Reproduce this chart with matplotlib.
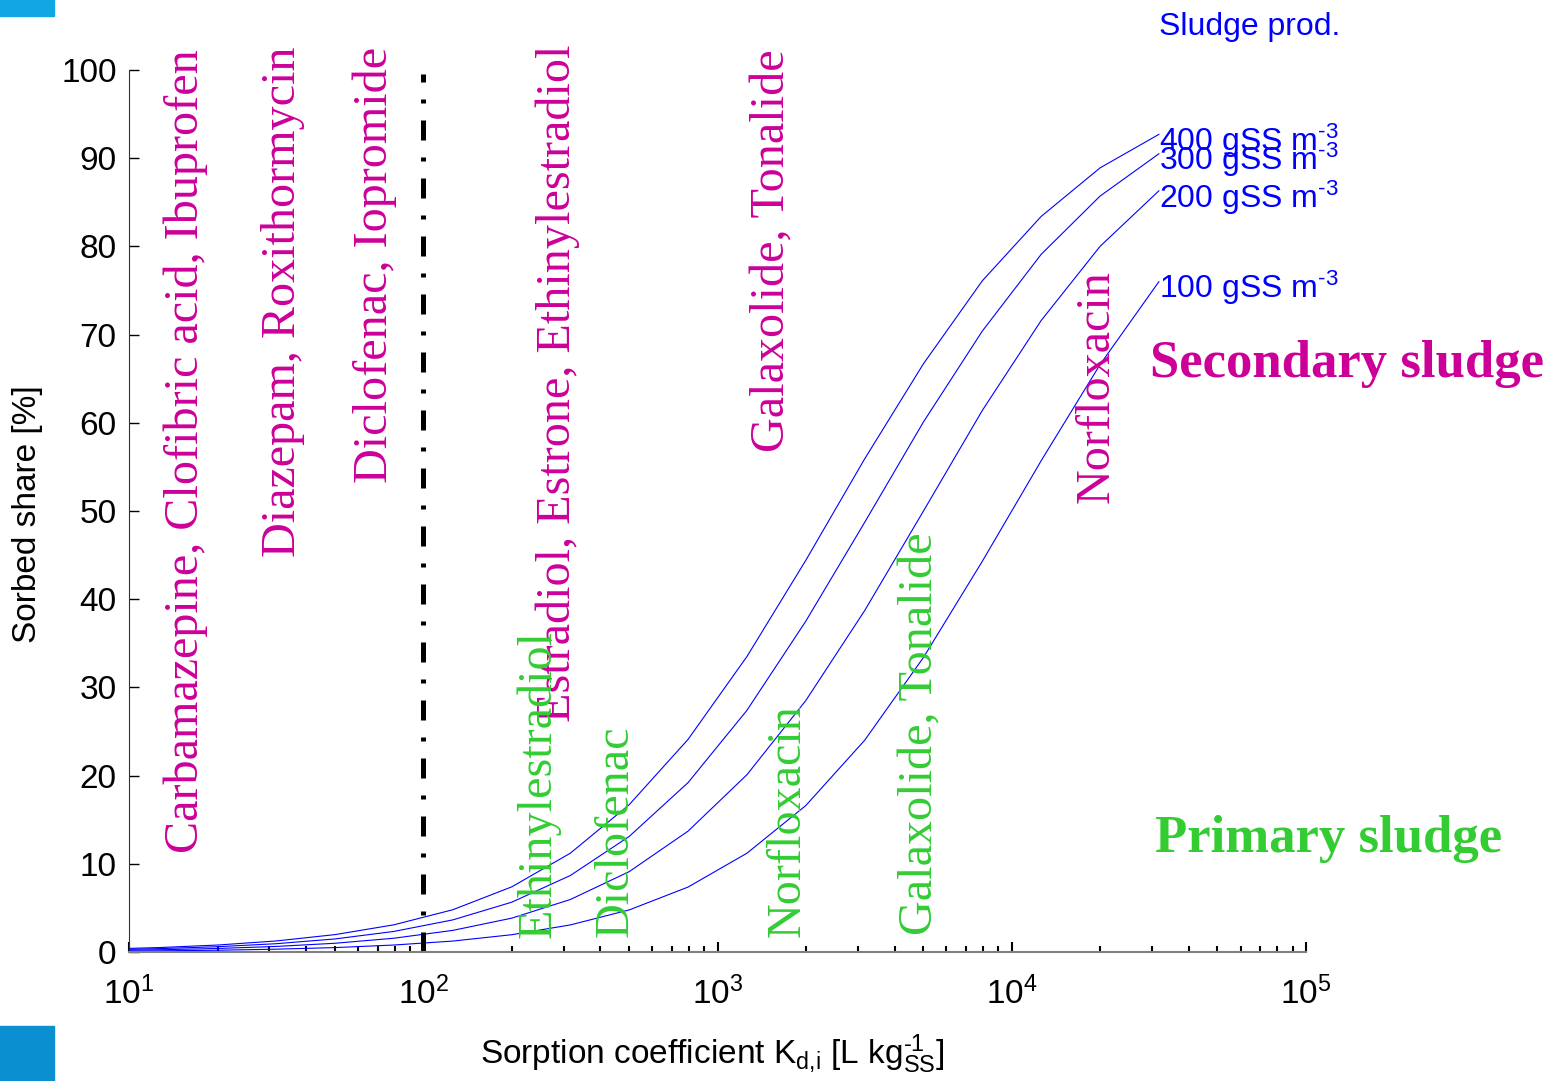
import matplotlib
matplotlib.use("Agg")
import matplotlib.pyplot as plt
from matplotlib.patches import Rectangle

plt.rcParams['font.family'] = ['Liberation Sans', 'DejaVu Sans']
plt.rcParams['mathtext.fontset'] = 'custom'
plt.rcParams['mathtext.rm'] = 'Liberation Sans'
plt.rcParams['mathtext.it'] = 'Liberation Sans'
plt.rcParams['mathtext.bf'] = 'Liberation Sans:bold'

# Kd grid (L/kgSS), 0.2-decade steps
kd = [7.94, 12.6, 20.0, 31.6, 50.1, 79.4, 126, 200, 316, 501, 794, 1259,
      1995, 3162, 5012, 7943, 12589, 19953, 31623]

# sorbed share [%] per sludge production
share_400 = [0.32, 0.50, 0.79, 1.25, 1.97, 3.08, 4.79, 7.39, 11.2, 16.7, 24.1,
             33.5, 44.4, 55.9, 66.7, 76.1, 83.4, 88.9, 92.7]
share_300 = [0.24, 0.38, 0.60, 0.94, 1.48, 2.33, 3.64, 5.65, 8.67, 13.1, 19.2,
             27.4, 37.5, 48.7, 60.1, 70.4, 79.1, 85.7, 90.5]
share_200 = [0.16, 0.25, 0.40, 0.63, 0.99, 1.56, 2.45, 3.84, 5.95, 9.11, 13.7,
             20.1, 28.5, 38.7, 50.0, 61.4, 71.6, 80.0, 86.3]
share_100 = [0.08, 0.13, 0.20, 0.32, 0.50, 0.79, 1.24, 1.96, 3.07, 4.77, 7.36,
             11.2, 16.6, 24.0, 33.4, 44.3, 55.7, 66.6, 76.0]

sludge_prod = [400, 300, 200, 100]
curves = [share_400, share_300, share_200, share_100]

# compounds: secondary (magenta) and primary (green) sludge
secondary_labels = ["Carbamazepine, Clofibric acid, Ibuprofen",
                    "Diazepam, Roxithormycin",
                    "Diclofenac, Iopromide",
                    "Estradiol, Estrone, Ethinylestradiol",
                    "Galaxolide, Tonalide",
                    "Norfloxacin"]
secondary_x = [17.2, 36.7, 75.3, 315, 1683, 21400]
secondary_y = [11.2, 44.8, 53.2, 26.1, 56.7, 50.9]

primary_labels = ["Ethinylestradiol", "Diclofenac", "Norfloxacin",
                  "Galaxolide, Tonalide"]
primary_x = [270, 493, 1907, 5358]
primary_y = [1.6, 1.7, 1.7, 1.9]

threshold_kd = 100

MAGENTA = '#CC0099'
GREEN = '#33CC33'
BLUE = '#0000FF'

fig = plt.figure(figsize=(15.56, 10.81), dpi=100)
ax = fig.add_axes([129 / 1556, 129 / 1081, 1177 / 1556, 882 / 1081])

for prod, share in zip(sludge_prod, curves):
    ax.plot(kd, share, color=BLUE, lw=0.8)
    ax.annotate(f'{prod} gSS m$^{{\\text{{-3}}}}$', xy=(kd[-1], share[-1]),
                xytext=(0, -12), textcoords='offset points',
                ha='left', va='baseline', color=BLUE, fontsize=23,
                annotation_clip=False)

ax.text(kd[-1], 104.0, 'Sludge prod.', color=BLUE, fontsize=23,
        ha='left', va='baseline', clip_on=False)

ax.plot([threshold_kd, threshold_kd], [0, 99.5], color='black', lw=3.6,
        dashes=(4, 3.4, 0.8, 3.4), dash_capstyle='butt')

for txt, x, y in zip(secondary_labels, secondary_x, secondary_y):
    ax.text(x, y, txt, rotation=90, rotation_mode='anchor', ha='left',
            va='baseline', color=MAGENTA, fontsize=34.7,
            family='Liberation Serif')
for txt, x, y in zip(primary_labels, primary_x, primary_y):
    ax.text(x, y, txt, rotation=90, rotation_mode='anchor', ha='left',
            va='baseline', color=GREEN, fontsize=34.7,
            family='Liberation Serif')

ax.text(29500, 65.2, 'Secondary sludge', color=MAGENTA, fontsize=38,
        fontweight='bold', family='Liberation Serif', ha='left',
        va='baseline', clip_on=False)
ax.text(30700, 11.3, 'Primary sludge', color=GREEN, fontsize=38,
        fontweight='bold', family='Liberation Serif', ha='left',
        va='baseline', clip_on=False)

ax.set_xscale('log')
ax.set_xlim(10, 1e5)
ax.set_ylim(0, 100)
ax.set_yticks(range(0, 101, 10))
ax.set_xticks([1e1, 1e2, 1e3, 1e4, 1e5])
ax.set_xticklabels(['$10^{1}$', '$10^{2}$', '$10^{3}$', '$10^{4}$', '$10^{5}$'])

for side in ('top', 'right'):
    ax.spines[side].set_visible(False)
ax.spines['left'].set_color('#333333')
ax.spines['bottom'].set_color('#808080')
ax.spines['bottom'].set_linewidth(1.5)

ax.tick_params(axis='y', direction='in', length=7, width=1, labelsize=24,
               pad=9)
ax.tick_params(axis='x', which='major', direction='in', length=7, width=1.5,
               labelsize=24, pad=18)
ax.tick_params(axis='x', which='minor', direction='in', length=4, width=1.5)

fig.text(28 / 1556, 1 - 514 / 1081, 'Sorbed share [%]', rotation=90,
         ha='center', va='center', fontsize=24)
fig.text(712 / 1556, 1 - 1064 / 1081,
         r'Sorption coefficient K$_{\mathrm{d{,}i}}$ [L kg$^{\text{-1}}_{\mathrm{SS}}$]',
         ha='center', va='baseline', fontsize=24)

# slide decorations
fig.patches.append(Rectangle((0, 1 - 16 / 1081), 54 / 1556, 16 / 1081,
                             transform=fig.transFigure, color='#12A6E4'))
fig.patches.append(Rectangle((0, 0), 54 / 1556, 55 / 1081,
                             transform=fig.transFigure, color='#0A8FD0'))

fig.savefig('out.png', dpi=100)
